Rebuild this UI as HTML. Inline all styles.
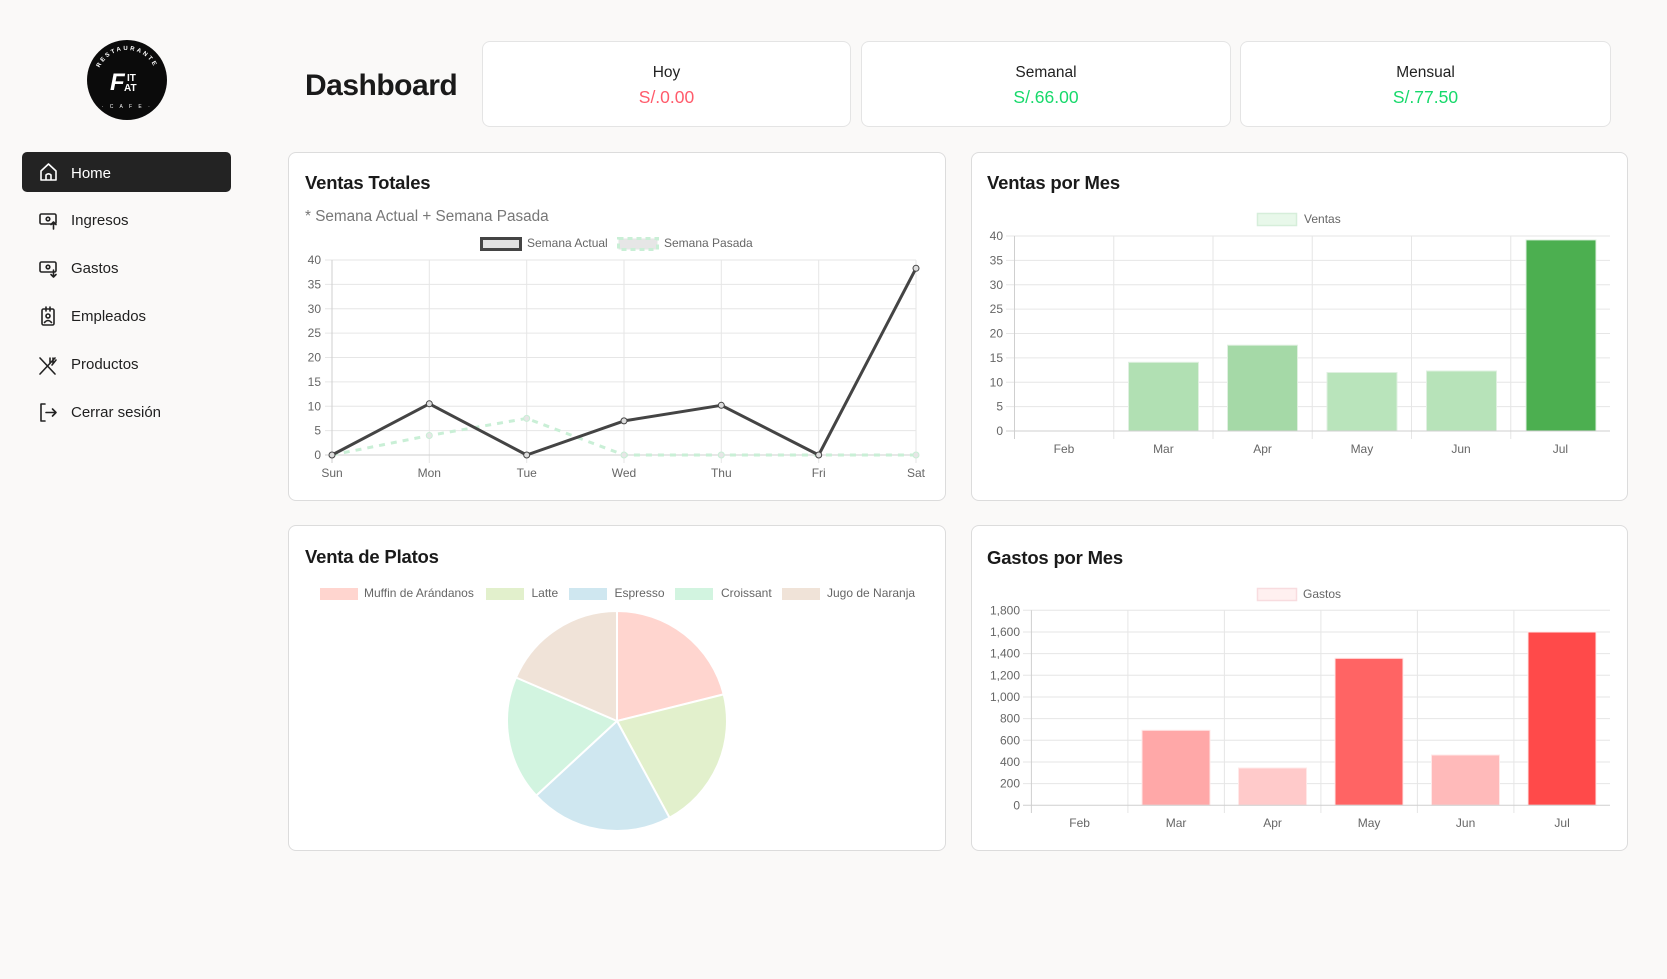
<!DOCTYPE html>
<html>
<head>
<meta charset="utf-8">
<style>
  html,body{margin:0;padding:0;}
  body{width:1667px;height:979px;background:#faf9f8;position:relative;overflow:hidden;font-family:"Liberation Sans",Arial,sans-serif;}
  .abs{position:absolute;line-height:1;white-space:nowrap;}
  .card{position:absolute;background:#fff;border:1px solid #dcdcdc;border-radius:8px;box-sizing:border-box;}
  .stat{position:absolute;background:#fff;border:1px solid #e4e4e4;border-radius:8px;box-sizing:border-box;top:41px;height:86px;}
  .navtxt{position:absolute;left:71px;font-size:15px;color:#1f1f1f;line-height:1;}
  .ctitle{position:absolute;font-size:18.5px;font-weight:bold;color:#1a1a1a;line-height:1;letter-spacing:-0.2px;}
  .slabel{position:absolute;width:100%;text-align:center;font-size:15.5px;color:#222;line-height:1;}
  .sval{position:absolute;width:100%;text-align:center;font-size:17.5px;line-height:1;}
</style>
</head>
<body>

<!-- Sidebar -->
<div class="abs" style="left:22px;top:152px;width:209px;height:40px;background:#232323;border-radius:5px;"></div>
<div class="navtxt" style="top:165.6px;color:#fff;">Home</div>
<div class="navtxt" style="top:213.3px;">Ingresos</div>
<div class="navtxt" style="top:261.3px;">Gastos</div>
<div class="navtxt" style="top:309.3px;">Empleados</div>
<div class="navtxt" style="top:357.3px;">Productos</div>
<div class="navtxt" style="top:405.3px;">Cerrar sesión</div>

<!-- Title -->
<div class="abs" style="left:305px;top:71px;font-size:30px;font-weight:bold;color:#1a1a1a;letter-spacing:-0.5px;">Dashboard</div>

<!-- Stat cards -->
<div class="stat" style="left:482px;width:369px;">
  <div class="slabel" style="top:22.5px;">Hoy</div>
  <div class="sval" style="top:47.2px;color:#ff5b6b;">S/.0.00</div>
</div>
<div class="stat" style="left:861px;width:370px;">
  <div class="slabel" style="top:22.5px;">Semanal</div>
  <div class="sval" style="top:47.2px;color:#17d96b;">S/.66.00</div>
</div>
<div class="stat" style="left:1240px;width:371px;">
  <div class="slabel" style="top:22.5px;">Mensual</div>
  <div class="sval" style="top:47.2px;color:#17d96b;">S/.77.50</div>
</div>

<!-- Chart cards -->
<div class="card" style="left:288px;top:152px;width:658px;height:349px;"></div>
<div class="card" style="left:971px;top:152px;width:657px;height:349px;"></div>
<div class="card" style="left:288px;top:525px;width:658px;height:326px;"></div>
<div class="card" style="left:971px;top:525px;width:657px;height:326px;"></div>

<div class="ctitle" style="left:305px;top:174.3px;">Ventas Totales</div>
<div class="abs" style="left:305px;top:209px;font-size:15.3px;color:#777;">* Semana Actual + Semana Pasada</div>
<div class="ctitle" style="left:987px;top:174.3px;">Ventas por Mes</div>
<div class="ctitle" style="left:305px;top:548.3px;">Venta de Platos</div>
<div class="ctitle" style="left:987px;top:548.8px;">Gastos por Mes</div>

<svg class="abs" style="left:0;top:0;" width="1667" height="979" viewBox="0 0 1667 979" xmlns="http://www.w3.org/2000/svg" font-family="Liberation Sans, Arial, sans-serif">
  <defs>
    <path id="topArc" d="M 97 80 A 30 30 0 0 1 157 80"/>
    <path id="botArc" d="M 103 86 A 24 24 0 0 0 151 86"/>
  </defs>

  <!-- Logo -->
  <circle cx="127" cy="80" r="40" fill="#0b0b0b"/>
  <text font-size="6" fill="#fff" letter-spacing="2.2" font-weight="bold"><textPath href="#topArc" startOffset="50%" text-anchor="middle">RESTAURANTE</textPath></text>
  <text font-size="5" fill="#fff" letter-spacing="2.5" x="127" y="108" text-anchor="middle">· C A F E ·</text>
  <text x="110" y="90" font-size="24" font-weight="bold" font-style="italic" fill="#fff">F</text>
  <text x="127" y="81" font-size="10" font-weight="bold" fill="#fff">IT</text>
  <text x="124" y="91" font-size="10" font-weight="bold" fill="#fff">AT</text>

  <!-- Nav icons -->
  <g fill="none" stroke="#fff" stroke-width="1.6" stroke-linejoin="round">
    <path d="M41 171 L48.5 164 L56 171 L56 180 L41 180 Z"/>
    <path d="M46 180 L46 175 Q48.5 172.5 51 175 L51 180"/>
  </g>
  <g fill="none" stroke="#222" stroke-width="1.6" stroke-linejoin="round" stroke-linecap="round">
    <!-- Ingresos -->
    <rect x="40" y="214" width="16" height="10" rx="1.5"/>
    <circle cx="48" cy="219" r="1.8"/>
    <path d="M53.5 229 L53.5 222 M51 224.5 L53.5 222 L56 224.5"/>
    <!-- Gastos -->
    <rect x="40" y="262" width="16" height="10" rx="1.5"/>
    <circle cx="48" cy="267" r="1.8"/>
    <path d="M53.5 270 L53.5 277 M51 274.5 L53.5 277 L56 274.5"/>
    <!-- Empleados -->
    <rect x="42" y="309" width="12" height="16" rx="1.5"/>
    <path d="M46 307 L46 311 M50 307 L50 311"/>
    <circle cx="48" cy="316" r="2"/>
    <path d="M44.5 322.5 Q48 318.5 51.5 322.5"/>
    <!-- Productos -->
    <path d="M40 374 L55 358 M40 358 L55 374 M50 358 L50 363 M53 358 L53 363 M56 360 L52 365"/>
    <!-- Cerrar -->
    <path d="M45 404 L41 404 L41 421 L45 421"/>
    <path d="M46 412.5 L56 412.5 M52.5 409 L56 412.5 L52.5 416"/>
  </g>

  <!-- ============ Ventas Totales ============ -->
  <g font-size="12" fill="#666">
    <rect x="481.5" y="238.5" width="39" height="11" fill="#e2e2e2" stroke="#444" stroke-width="3"/>
    <text x="527" y="247">Semana Actual</text>
    <rect x="618.5" y="238.5" width="39" height="11" fill="#e6e6e6" stroke="#c9efd6" stroke-width="3" stroke-dasharray="5 4"/>
    <text x="664" y="247">Semana Pasada</text>
  </g>
  <g stroke="#e6e6e6" stroke-width="1">
    <line x1="325" y1="260" x2="916" y2="260"/>
    <line x1="325" y1="284.4" x2="916" y2="284.4"/>
    <line x1="325" y1="308.75" x2="916" y2="308.75"/>
    <line x1="325" y1="333.1" x2="916" y2="333.1"/>
    <line x1="325" y1="357.5" x2="916" y2="357.5"/>
    <line x1="325" y1="381.9" x2="916" y2="381.9"/>
    <line x1="325" y1="406.25" x2="916" y2="406.25"/>
    <line x1="325" y1="430.6" x2="916" y2="430.6"/>
    <line x1="429.3" y1="260" x2="429.3" y2="463"/>
    <line x1="526.7" y1="260" x2="526.7" y2="463"/>
    <line x1="624" y1="260" x2="624" y2="463"/>
    <line x1="721.3" y1="260" x2="721.3" y2="463"/>
    <line x1="818.7" y1="260" x2="818.7" y2="463"/>
    <line x1="916" y1="260" x2="916" y2="463"/>
  </g>
  <line x1="325" y1="455" x2="916" y2="455" stroke="#cfcfcf"/>
  <line x1="332" y1="260" x2="332" y2="463" stroke="#cfcfcf"/>
  <g font-size="12" fill="#666" text-anchor="end">
    <text x="321" y="264">40</text>
    <text x="321" y="288.4">35</text>
    <text x="321" y="312.75">30</text>
    <text x="321" y="337.1">25</text>
    <text x="321" y="361.5">20</text>
    <text x="321" y="385.9">15</text>
    <text x="321" y="410.25">10</text>
    <text x="321" y="434.6">5</text>
    <text x="321" y="459">0</text>
  </g>
  <g font-size="12" fill="#666" text-anchor="middle">
    <text x="332" y="477">Sun</text>
    <text x="429.3" y="477">Mon</text>
    <text x="526.7" y="477">Tue</text>
    <text x="624" y="477">Wed</text>
    <text x="721.3" y="477">Thu</text>
    <text x="818.7" y="477">Fri</text>
    <text x="916" y="477">Sat</text>
  </g>
  <polyline points="332,455 429.3,435.5 526.7,418.4 624,455 721.3,455 818.7,455 916,455" fill="none" stroke="#c9efd6" stroke-width="3" stroke-dasharray="6 6"/>
  <g fill="#e6e6e6" stroke="#c9efd6" stroke-width="1">
    <circle cx="429.3" cy="435.5" r="3"/><circle cx="526.7" cy="418.4" r="3"/>
    <circle cx="624" cy="455" r="3"/><circle cx="721.3" cy="455" r="3"/>
    <circle cx="916" cy="455" r="3"/>
  </g>
  <polyline points="332,455 429.3,403.8 526.7,455 624,420.9 721.3,405.3 818.7,455 916,268.3" fill="none" stroke="#444" stroke-width="3" stroke-linejoin="round"/>
  <g fill="#ddd" stroke="#444" stroke-width="1">
    <circle cx="332" cy="455" r="3"/><circle cx="429.3" cy="403.8" r="3"/>
    <circle cx="526.7" cy="455" r="3"/><circle cx="624" cy="420.9" r="3"/>
    <circle cx="721.3" cy="405.3" r="3"/><circle cx="818.7" cy="455" r="3"/>
    <circle cx="916" cy="268.3" r="3"/>
  </g>

  <!-- ============ Ventas por Mes ============ -->
  <rect x="1257.5" y="213.5" width="39" height="12" fill="#e8f8ea" stroke="#d6eeda" stroke-width="1.5"/>
  <text x="1304" y="223" font-size="12" fill="#666">Ventas</text>
  <g stroke="#e6e6e6" stroke-width="1">
    <line x1="1006" y1="236" x2="1610" y2="236"/>
    <line x1="1006" y1="260.4" x2="1610" y2="260.4"/>
    <line x1="1006" y1="284.75" x2="1610" y2="284.75"/>
    <line x1="1006" y1="309.1" x2="1610" y2="309.1"/>
    <line x1="1006" y1="333.5" x2="1610" y2="333.5"/>
    <line x1="1006" y1="357.9" x2="1610" y2="357.9"/>
    <line x1="1006" y1="382.25" x2="1610" y2="382.25"/>
    <line x1="1006" y1="406.6" x2="1610" y2="406.6"/>
    <line x1="1113.75" y1="236" x2="1113.75" y2="439"/>
    <line x1="1213" y1="236" x2="1213" y2="439"/>
    <line x1="1312.25" y1="236" x2="1312.25" y2="439"/>
    <line x1="1411.5" y1="236" x2="1411.5" y2="439"/>
    <line x1="1510.75" y1="236" x2="1510.75" y2="439"/>
  </g>
  <line x1="1014.5" y1="236" x2="1014.5" y2="439" stroke="#cfcfcf"/>
  <g font-size="12" fill="#666" text-anchor="end">
    <text x="1003" y="240">40</text>
    <text x="1003" y="264.4">35</text>
    <text x="1003" y="288.75">30</text>
    <text x="1003" y="313.1">25</text>
    <text x="1003" y="337.5">20</text>
    <text x="1003" y="361.9">15</text>
    <text x="1003" y="386.25">10</text>
    <text x="1003" y="410.6">5</text>
    <text x="1003" y="435">0</text>
  </g>
  <g stroke="#dff0e0" stroke-width="1">
    <rect x="1128.5" y="362.3" width="70" height="68.7" fill="#b1e0b3"/>
    <rect x="1227.5" y="345.2" width="70" height="85.8" fill="#a5d9a7"/>
    <rect x="1327" y="372.5" width="70" height="58.5" fill="#b9e4bb"/>
    <rect x="1426.5" y="371" width="70" height="60" fill="#b7e3b9"/>
    <rect x="1526" y="239.9" width="70" height="191.1" fill="#4caf50"/>
  </g>
  <line x1="1006" y1="431" x2="1610" y2="431" stroke="#cfcfcf"/>
  <g font-size="12" fill="#666" text-anchor="middle">
    <text x="1064" y="453">Feb</text>
    <text x="1163.4" y="453">Mar</text>
    <text x="1262.6" y="453">Apr</text>
    <text x="1361.9" y="453">May</text>
    <text x="1461" y="453">Jun</text>
    <text x="1560.4" y="453">Jul</text>
  </g>

  <!-- ============ Venta de Platos ============ -->
  <g font-size="12" fill="#666">
    <rect x="320" y="588" width="38" height="12" fill="#ffd5cf"/>
    <text x="364" y="597">Muffin de Arándanos</text>
    <rect x="486" y="588" width="38" height="12" fill="#e2f0cc"/>
    <text x="531.5" y="597">Latte</text>
    <rect x="569" y="588" width="38" height="12" fill="#cfe7f0"/>
    <text x="614.5" y="597">Espresso</text>
    <rect x="675" y="588" width="38" height="12" fill="#d2f4e0"/>
    <text x="721" y="597">Croissant</text>
    <rect x="782" y="588" width="38" height="12" fill="#f0e3d8"/>
    <text x="827" y="597">Jugo de Naranja</text>
  </g>
  <g stroke="#fff" stroke-width="2" stroke-linejoin="round">
    <path d="M617 721 L617 611 A110 110 0 0 1 723.7 694.4 Z" fill="#ffd5cf"/>
    <path d="M617 721 L723.7 694.4 A110 110 0 0 1 669.5 817.7 Z" fill="#e2f0cc"/>
    <path d="M617 721 L669.5 817.7 A110 110 0 0 1 536.2 795.6 Z" fill="#cfe7f0"/>
    <path d="M617 721 L536.2 795.6 A110 110 0 0 1 516 677.5 Z" fill="#d2f4e0"/>
    <path d="M617 721 L516 677.5 A110 110 0 0 1 617 611 Z" fill="#f0e3d8"/>
  </g>

  <!-- ============ Gastos por Mes ============ -->
  <rect x="1257.5" y="588.5" width="39" height="12" fill="#fff0f0" stroke="#f8dcdf" stroke-width="1.5"/>
  <text x="1303" y="598" font-size="12" fill="#666">Gastos</text>
  <g stroke="#e6e6e6" stroke-width="1">
    <line x1="1023" y1="610.3" x2="1610" y2="610.3"/>
    <line x1="1023" y1="632" x2="1610" y2="632"/>
    <line x1="1023" y1="653.6" x2="1610" y2="653.6"/>
    <line x1="1023" y1="675.3" x2="1610" y2="675.3"/>
    <line x1="1023" y1="697" x2="1610" y2="697"/>
    <line x1="1023" y1="718.6" x2="1610" y2="718.6"/>
    <line x1="1023" y1="740.3" x2="1610" y2="740.3"/>
    <line x1="1023" y1="762" x2="1610" y2="762"/>
    <line x1="1023" y1="783.6" x2="1610" y2="783.6"/>
    <line x1="1127.9" y1="610.3" x2="1127.9" y2="813"/>
    <line x1="1224.4" y1="610.3" x2="1224.4" y2="813"/>
    <line x1="1320.9" y1="610.3" x2="1320.9" y2="813"/>
    <line x1="1417.4" y1="610.3" x2="1417.4" y2="813"/>
    <line x1="1513.9" y1="610.3" x2="1513.9" y2="813"/>
  </g>
  <line x1="1031.4" y1="610.3" x2="1031.4" y2="813" stroke="#cfcfcf"/>
  <g font-size="12" fill="#666" text-anchor="end">
    <text x="1020" y="614.3">1,800</text>
    <text x="1020" y="636">1,600</text>
    <text x="1020" y="657.6">1,400</text>
    <text x="1020" y="679.3">1,200</text>
    <text x="1020" y="701">1,000</text>
    <text x="1020" y="722.6">800</text>
    <text x="1020" y="744.3">600</text>
    <text x="1020" y="766">400</text>
    <text x="1020" y="787.6">200</text>
    <text x="1020" y="809.3">0</text>
  </g>
  <g stroke="#ffe8e8" stroke-width="1">
    <rect x="1142" y="730.3" width="68" height="75" fill="#ffa8a8"/>
    <rect x="1238.5" y="768" width="68" height="37.3" fill="#ffcaca"/>
    <rect x="1335" y="658.3" width="68" height="147" fill="#ff6464"/>
    <rect x="1431.5" y="755" width="68" height="50.3" fill="#ffbaba"/>
    <rect x="1528" y="632" width="68" height="173.3" fill="#ff4a4a"/>
  </g>
  <line x1="1023" y1="805.3" x2="1610" y2="805.3" stroke="#cfcfcf"/>
  <g font-size="12" fill="#666" text-anchor="middle">
    <text x="1079.6" y="827">Feb</text>
    <text x="1176.1" y="827">Mar</text>
    <text x="1272.6" y="827">Apr</text>
    <text x="1369.1" y="827">May</text>
    <text x="1465.6" y="827">Jun</text>
    <text x="1562.1" y="827">Jul</text>
  </g>
</svg>

</body>
</html>
